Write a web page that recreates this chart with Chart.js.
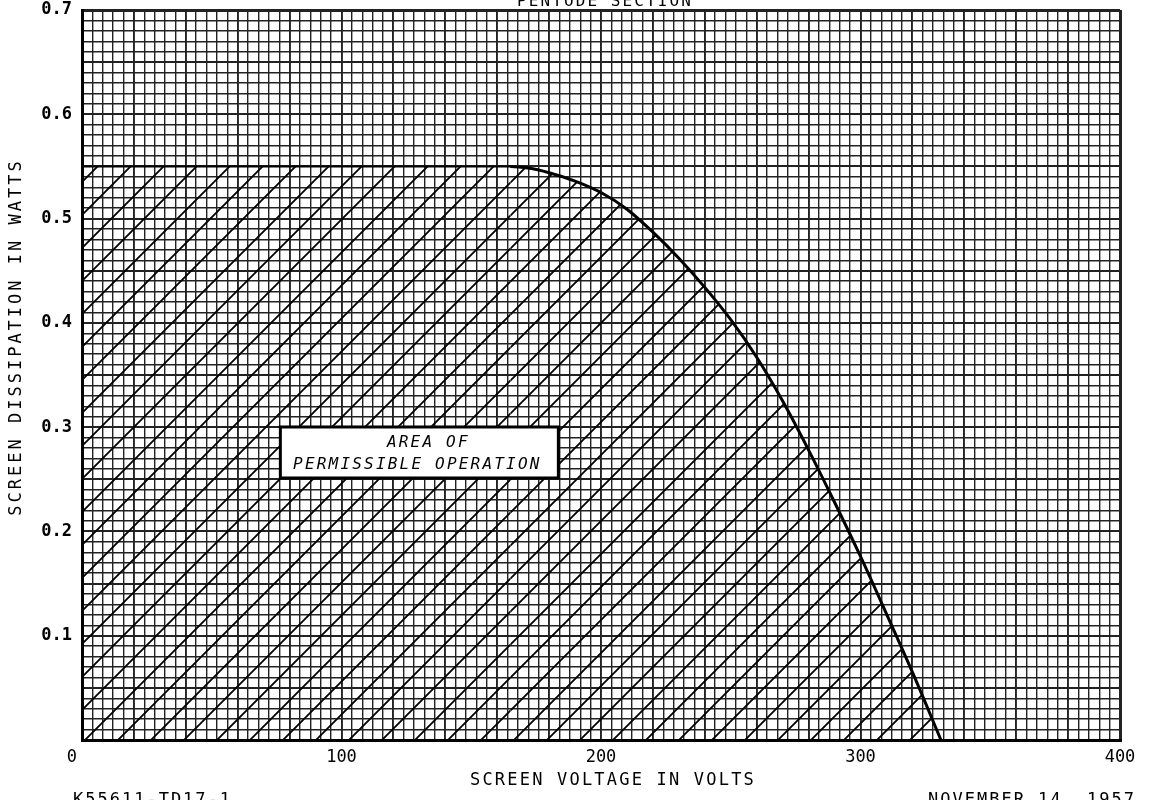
<!DOCTYPE html>
<html><head><meta charset="utf-8">
<script src="https://cdn.jsdelivr.net/npm/chart.js@4.4.1/dist/chart.umd.min.js"></script>
<style>html,body{margin:0;padding:0;background:#fff;} canvas{display:block}</style>
</head><body>
<canvas id="c" width="1149" height="800"></canvas>
<script>
// ---- data ----
const volts = [0, 165, 172, 180, 190, 200, 210, 220, 230, 240, 250, 260, 270, 280, 290, 300, 310, 320, 331];
const watts = [0.55, 0.55, 0.5485, 0.544, 0.536, 0.525, 0.509, 0.487, 0.462, 0.434, 0.403, 0.367, 0.325, 0.278, 0.228, 0.176, 0.121, 0.065, 0.0];
const xTickLabels = [0, 100, 200, 300, 400];
const yTickLabels = [0.1, 0.2, 0.3, 0.4, 0.5, 0.6, 0.7];
const chartTitle = 'PENTODE SECTION';
const xTitle = 'SCREEN VOLTAGE IN VOLTS';
const yTitle = 'SCREEN DISSIPATION IN WATTS';
const boxLines = ['AREA OF', 'PERMISSIBLE OPERATION'];
const boxAnchor = [130, 0.2757]; // volts, watts (label centre)
const footLeft = 'K55611-TD17-1';
const footRight = 'NOVEMBER 14, 1957';

const MONO = '"DejaVu Sans Mono", "Liberation Mono", monospace';

function hatchPattern() {
  const s = 33;
  const c = document.createElement('canvas');
  c.width = s; c.height = s;
  const g = c.getContext('2d');
  g.strokeStyle = '#000';
  g.lineWidth = 1.8;
  g.beginPath();
  for (const k of [0, s, 2 * s]) {
    g.moveTo(k + 3, -3);
    g.lineTo(k - s - 3, s + 3);
  }
  g.stroke();
  return g.createPattern(c, 'repeat');
}

const textPlugin = {
  id: 'texts',
  afterDatasetsDraw(chart) {
    const ctx = chart.ctx;
    const xs = chart.scales.x, ys = chart.scales.y;
    const cx = xs.getPixelForValue(boxAnchor[0]);
    const cy = ys.getPixelForValue(boxAnchor[1]);
    const w = 278, h = 51;
    ctx.save();
    ctx.fillStyle = '#fff';
    ctx.fillRect(cx - w / 2, cy - h / 2, w, h);
    ctx.strokeStyle = '#000';
    ctx.lineWidth = 3;
    ctx.strokeRect(cx - w / 2, cy - h / 2, w, h);
    ctx.fillStyle = '#000';
    ctx.font = 'italic 16px ' + MONO;
    ctx.letterSpacing = '2.2px';
    ctx.textAlign = 'center';
    ctx.textBaseline = 'middle';
    ctx.fillText(boxLines[0], cx + 9, cy - 10);
    ctx.fillText(boxLines[1], cx - 2, cy + 12);
    ctx.restore();
  },
  afterDraw(chart) {
    const ctx = chart.ctx;
    const area = chart.chartArea;
    ctx.save();
    ctx.fillStyle = '#000';
    ctx.textAlign = 'center';
    // title (cut off at the top edge)
    ctx.font = '16px ' + MONO;
    ctx.letterSpacing = '2.1px';
    ctx.textBaseline = 'alphabetic';
    ctx.fillText(chartTitle, (area.left + area.right) / 2 + 4, 6);
    // x title
    ctx.font = '17px ' + MONO;
    ctx.letterSpacing = '2.2px';
    ctx.textBaseline = 'middle';
    ctx.fillText(xTitle, 613, 781);
    // y title
    ctx.save();
    ctx.translate(17, 337);
    ctx.rotate(-Math.PI / 2);
    ctx.letterSpacing = '3px';
    ctx.fillText(yTitle, 0, 0);
    ctx.restore();
    // footers (cut off at the bottom edge)
    ctx.letterSpacing = '2px';
    ctx.textBaseline = 'top';
    ctx.textAlign = 'left';
    ctx.fillText(footLeft, 73, 792);
    ctx.textAlign = 'right';
    ctx.fillText(footRight, 1136, 792);
    ctx.restore();
  }
};

function gridWidthX(c) {
  if (!c.tick) return 1;
  const v = Math.round(c.tick.value);
  if (v === 0 || v === 400) return 3;
  return v % 20 === 0 ? 1.9 : 1.4;
}
function gridWidthY(c) {
  if (!c.tick) return 1;
  const v = Math.round(c.tick.value * 100);
  if (v === 0 || v === 70) return 3;
  return v % 5 === 0 ? 1.9 : 1.4;
}

new Chart(document.getElementById('c'), {
  type: 'line',
  data: {
    datasets: [{
      data: volts.map((v, i) => ({ x: v, y: watts[i] })),
      borderColor: '#000',
      borderWidth: 3,
      pointRadius: 0,
      cubicInterpolationMode: 'monotone',
      fill: 'origin',
      backgroundColor: hatchPattern(),
      segment: {
        borderWidth: c => (c.p0.parsed.y >= 0.5499 && c.p1.parsed.y >= 0.5499) ? 2 : 3
      }
    }]
  },
  options: {
    responsive: false,
    animation: false,
    devicePixelRatio: 1,
    layout: { padding: { top: 10, right: 29, left: 0, bottom: 0 } },
    plugins: { legend: { display: false }, tooltip: { enabled: false }, title: { display: false } },
    scales: {
      x: {
        type: 'linear', min: 0, max: 400,
        afterFit(s) { s.height = 60; },
        border: { display: true, color: '#000', width: 3 },
        grid: { color: '#222', lineWidth: gridWidthX, drawTicks: false },
        ticks: {
          stepSize: 4, autoSkip: false, maxRotation: 0, minRotation: 0, padding: 7,
          color: '#000', font: { family: MONO, size: 17 },
          callback: v => xTickLabels.includes(Math.round(v)) ? (Math.round(v) === 0 ? '0  ' : String(Math.round(v))) : ''
        }
      },
      y: {
        type: 'linear', min: 0, max: 0.7,
        afterFit(s) { s.width = 82; s.paddingTop = 0; s.paddingBottom = 0; },
        border: { display: true, color: '#000', width: 3 },
        grid: { color: '#222', lineWidth: gridWidthY, drawTicks: false },
        ticks: {
          stepSize: 0.01, autoSkip: false, padding: 10,
          color: '#000', font: { family: MONO, size: 17, weight: 'bold' },
          callback: v => {
            const l = yTickLabels.find(t => Math.abs(t - v) < 1e-6);
            return l === undefined ? '' : l.toFixed(1);
          }
        }
      }
    }
  },
  plugins: [textPlugin]
});
</script>
</body></html>
